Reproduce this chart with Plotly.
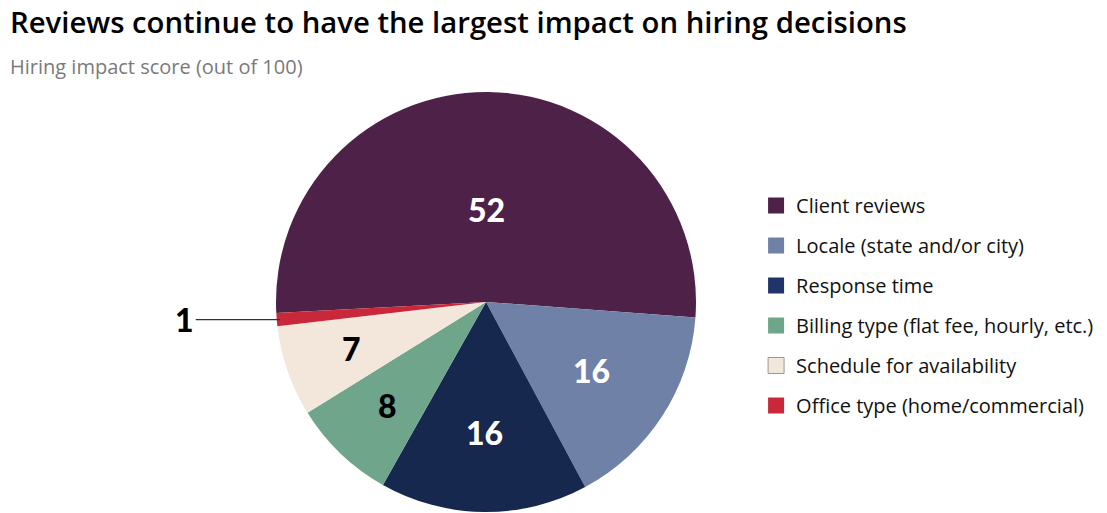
import math
import plotly.graph_objects as go

labels = ["Client reviews", "Locale (state and/or city)", "Response time",
          "Billing type (flat fee, hourly, etc.)", "Schedule for availability",
          "Office type (home/commercial)"]
values = [52, 16, 16, 8, 7, 1]
colors = ["#4E2149", "#7081A8", "#17284F", "#6FA58A", "#F3E6DA", "#C9283B"]
legend_colors = ["#4E2149", "#7081A8", "#21346A", "#6FA58A", "#F3E6DA", "#C9283B"]
text_colors = ["white", "white", "white", "black", "black", "black"]
# radial placement of each inside label, as a fraction of the radius (style)
label_radius = [0.44, 0.60, 0.62, 0.68, 0.68, None]

title_text = "Reviews continue to have the largest impact on hiring decisions"
subtitle_text = "Hiring impact score (out of 100)"

W, H = 1107, 513
cx, cy, R = 486, 302, 210
rotation = 267
TXT_FONT = "Open Sans"
NUM_FONT = "Lato"

fig = go.Figure()
fig.add_trace(go.Pie(
    labels=labels, values=values, sort=False, direction="clockwise",
    rotation=rotation,
    marker=dict(colors=colors, line=dict(width=0)),
    textinfo="none",
    domain=dict(x=[(cx - R) / W, (cx + R) / W], y=[1 - (cy + R) / H, 1 - (cy - R) / H]),
    showlegend=False, hoverinfo="label+value",
))

# legend entries
for i, (lab, col) in enumerate(zip(labels, legend_colors)):
    fig.add_trace(go.Scatter(
        x=[None], y=[None], mode="markers", name=lab, legendgroup=f"g{i}",
        marker=dict(symbol="square", size=16, color=col,
                    line=dict(width=1 if col == "#F3E6DA" else 0, color="#999999")),
    ))

# value labels placed at each slice's mid-angle
total = sum(values)
cum = 0
for v, tc, fr in zip(values, text_colors, label_radius):
    mid = math.radians(rotation + 360 * (cum + v / 2) / total)
    cum += v
    numfont = dict(family=NUM_FONT, size=32, color=tc, weight=900)
    if fr is not None:
        x = cx + fr * R * math.sin(mid)
        y = cy - fr * R * math.cos(mid)
        fig.add_annotation(x=x / W, y=1 - y / H, xref="paper", yref="paper",
                           xanchor="center", yanchor="middle",
                           text=str(v), showarrow=False, font=numfont)
    else:
        x = cx + R * math.sin(mid)
        y = cy - R * math.cos(mid)
        fig.add_annotation(x=(x + 3) / W, y=1 - y / H, xref="paper", yref="paper",
                           text=str(v), showarrow=True, arrowhead=0, arrowwidth=1.2,
                           arrowcolor="#333333", ax=-95, ay=0, standoff=0, font=numfont)

fig.add_annotation(x=8 / W, y=1 - 22 / H, xref="paper", yref="paper",
                   xanchor="left", yanchor="middle", showarrow=False,
                   text=title_text, font=dict(family=TXT_FONT, size=29.3, color="#000000", weight=600))
fig.add_annotation(x=8 / W, y=1 - 67 / H, xref="paper", yref="paper",
                   xanchor="left", yanchor="middle", showarrow=False,
                   text=subtitle_text, font=dict(family=TXT_FONT, size=20, color="#7a7a7a"))

fig.update_layout(
    width=W, height=H, margin=dict(l=0, r=0, t=0, b=0),
    paper_bgcolor="white", plot_bgcolor="white",
    xaxis=dict(visible=False), yaxis=dict(visible=False),
    legend=dict(x=0.683, y=1 - 186 / H, xanchor="left", yanchor="top",
                font=dict(family=TXT_FONT, size=20, color="#111111"),
                tracegroupgap=11, bgcolor="rgba(0,0,0,0)"),
)

fig.write_html("out.html", config={"displayModeBar": False},
               post_script="document.body.style.margin='0';")
